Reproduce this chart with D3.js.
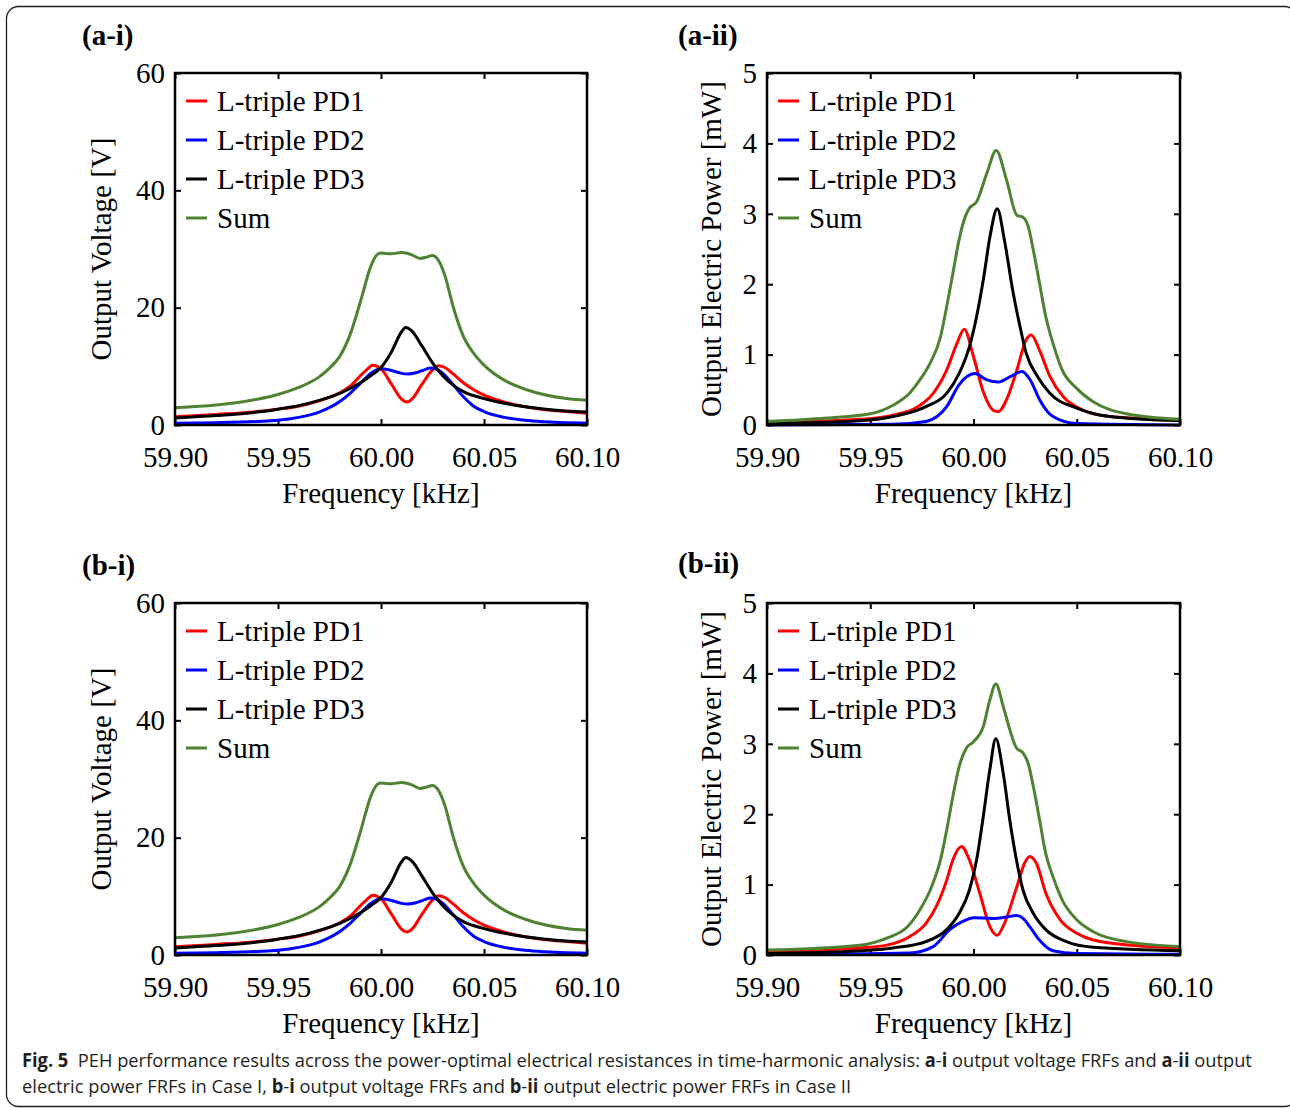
<!DOCTYPE html>
<html>
<head>
<meta charset="utf-8">
<title>PEH FRFs</title>
<script src="https://d3js.org/d3.v7.min.js"></script>
<style>
  body { margin: 0; background: #fff; }
</style>
</head>
<body>
<svg id="fig" width="1290" height="1108"></svg>
<script>
// ---- data ----
var freqTicks = [59.90, 59.95, 60.00, 60.05, 60.10];
var voltTicks = [0, 20, 40, 60];
var powerTicks = [0, 1, 2, 3, 4, 5];
var seriesNames = ["L-triple PD1", "L-triple PD2", "L-triple PD3", "Sum"];
var seriesColors = ["#ff0000", "#0000ff", "#000000", "#4f8233"];

// (a-i) output voltage, Case I  [kHz, V]
var aiPD1 = [[59.90,1.4],[59.92,1.8],[59.94,2.3],[59.95,2.7],[59.96,3.2],[59.97,4.1],[59.98,5.5],[59.985,6.6],[59.99,8.4],[59.993,9.4],[59.996,10.2],[60.00,9.6],[60.005,7.0],[60.01,4.4],[60.0125,3.9],[60.015,4.4],[60.02,7.0],[60.025,9.4],[60.028,10.1],[60.031,9.8],[60.035,8.7],[60.04,7.2],[60.045,6.0],[60.05,5.1],[60.06,3.9],[60.07,3.1],[60.08,2.6],[60.09,2.3],[60.10,2.0]];
var aiPD2 = [[59.90,0.3],[59.92,0.4],[59.94,0.6],[59.95,0.8],[59.96,1.3],[59.97,2.2],[59.98,4.0],[59.985,5.4],[59.99,7.1],[59.995,8.8],[60.00,9.6],[60.005,9.3],[60.01,8.8],[60.013,8.7],[60.017,8.9],[60.021,9.4],[60.024,9.7],[60.027,9.5],[60.03,8.8],[60.035,6.9],[60.04,4.8],[60.045,3.2],[60.05,2.3],[60.06,1.3],[60.07,0.8],[60.08,0.55],[60.09,0.4],[60.10,0.3]];
var aiPD3 = [[59.90,1.2],[59.92,1.6],[59.94,2.2],[59.95,2.7],[59.96,3.3],[59.97,4.2],[59.98,5.4],[59.99,7.2],[59.995,8.4],[60.00,9.8],[60.005,12.4],[60.01,15.9],[60.012,16.6],[60.015,16.0],[60.02,13.4],[60.025,10.6],[60.03,8.4],[60.035,6.8],[60.04,5.7],[60.05,4.5],[60.06,3.7],[60.07,3.1],[60.08,2.7],[60.09,2.4],[60.10,2.2]];
var aiSum = [[59.90,2.95],[59.92,3.4],[59.94,4.4],[59.95,5.2],[59.96,6.4],[59.97,8.2],[59.975,9.7],[59.98,11.7],[59.985,15.4],[59.99,21.0],[59.995,27.0],[59.998,29.0],[60.00,29.3],[60.005,29.2],[60.01,29.4],[60.015,29.0],[60.019,28.4],[60.022,28.6],[60.025,28.9],[60.028,28.0],[60.031,25.5],[60.035,20.2],[60.04,15.1],[60.045,12.2],[60.05,10.2],[60.06,7.6],[60.07,6.1],[60.08,5.1],[60.09,4.5],[60.10,4.2]];

// (a-ii) output electric power, Case I  [kHz, mW]
var aiiPD1 = [[59.90,0.03],[59.945,0.08],[59.961,0.14],[59.973,0.26],[59.9805,0.45],[59.987,0.78],[59.992,1.16],[59.9955,1.36],[60.00,0.97],[60.005,0.45],[60.0095,0.21],[60.012,0.19],[60.016,0.36],[60.021,0.78],[60.0255,1.21],[60.028,1.28],[60.032,1.06],[60.037,0.69],[60.0435,0.40],[60.053,0.21],[60.066,0.12],[60.10,0.07]];
var aiiPD2 = [[59.90,0.0],[59.961,0.01],[59.977,0.05],[59.987,0.26],[59.993,0.57],[60.0006,0.73],[60.0065,0.64],[60.012,0.61],[60.018,0.69],[60.0235,0.76],[60.0275,0.64],[60.032,0.36],[60.0385,0.12],[60.05,0.02],[60.10,0.0]];
var aiiPD3 = [[59.90,0.02],[59.945,0.06],[59.961,0.12],[59.977,0.26],[59.987,0.45],[59.993,0.73],[59.998,1.11],[60.0015,1.54],[60.005,2.11],[60.008,2.68],[60.0115,3.07],[60.015,2.62],[60.019,1.91],[60.0225,1.40],[60.0255,1.02],[60.031,0.69],[60.037,0.45],[60.05,0.24],[60.066,0.12],[60.10,0.06]];
var aiiSum = [[59.90,0.05],[59.929,0.10],[59.95,0.16],[59.961,0.28],[59.969,0.45],[59.974,0.64],[59.979,0.88],[59.984,1.25],[59.987,1.68],[59.99,2.15],[59.993,2.63],[59.996,2.96],[59.998,3.08],[60.0015,3.17],[60.0065,3.58],[60.011,3.90],[60.016,3.48],[60.021,2.98],[60.024,2.95],[60.0265,2.82],[60.029,2.48],[60.032,2.01],[60.035,1.54],[60.0385,1.16],[60.043,0.78],[60.05,0.52],[60.058,0.33],[60.074,0.16],[60.10,0.08]];

// (b-i) output voltage, Case II -- same curves as (a-i) at this resolution
var biPD1 = aiPD1.slice();
var biPD2 = aiPD2.slice();
var biPD3 = aiPD3.slice();
var biSum = aiSum.slice();

// (b-ii) output electric power, Case II
var biiPD1 = [[59.90,0.05],[59.945,0.10],[59.958,0.14],[59.969,0.26],[59.977,0.45],[59.982,0.69],[59.987,1.06],[59.99,1.35],[59.9942,1.54],[59.998,1.35],[60.003,0.88],[60.008,0.40],[60.0115,0.28],[60.015,0.45],[60.021,0.97],[60.025,1.32],[60.0273,1.40],[60.0305,1.30],[60.035,0.88],[60.042,0.50],[60.05,0.31],[60.066,0.17],[60.10,0.10]];
var biiPD2 = [[59.90,0.01],[59.969,0.03],[59.9805,0.12],[59.9885,0.36],[59.995,0.48],[60.00,0.53],[60.0095,0.52],[60.016,0.54],[60.0208,0.56],[60.024,0.52],[60.0273,0.40],[60.032,0.21],[60.0385,0.06],[60.05,0.02],[60.10,0.01]];
var biiPD3 = [[59.90,0.02],[59.945,0.06],[59.961,0.10],[59.977,0.19],[59.987,0.36],[59.993,0.59],[59.998,0.92],[60.0015,1.35],[60.0047,1.96],[60.0079,2.63],[60.0108,3.07],[60.0144,2.58],[60.0176,1.91],[60.0208,1.35],[60.024,0.92],[60.029,0.59],[60.035,0.36],[60.045,0.19],[60.058,0.11],[60.10,0.06]];
var biiSum = [[59.90,0.07],[59.945,0.14],[59.958,0.24],[59.968,0.40],[59.974,0.64],[59.979,0.92],[59.984,1.35],[59.987,1.77],[59.99,2.25],[59.993,2.67],[59.9966,2.94],[60.00,3.03],[60.0047,3.24],[60.0079,3.62],[60.0108,3.85],[60.0144,3.53],[60.0176,3.2],[60.0208,2.94],[60.024,2.87],[60.0265,2.72],[60.029,2.39],[60.032,1.92],[60.035,1.44],[60.0385,1.11],[60.043,0.78],[60.05,0.50],[60.058,0.33],[60.074,0.19],[60.10,0.12]];

// ---- layout ----
var serif = "'Liberation Serif', 'Times New Roman', serif";
var panels = [
  {tag: "(a-i)",  tagX: 82,  tagY: 45,  left: 175, top: 73,  w: 412, h: 352, yMax: 60, ticks: voltTicks,  ylab: "Output Voltage [V]",         ylabX: 111, series: [aiPD1, aiPD2, aiPD3, aiSum]},
  {tag: "(a-ii)", tagX: 678, tagY: 45,  left: 767, top: 73,  w: 413, h: 352, yMax: 5,  ticks: powerTicks, ylab: "Output Electric Power [mW]", ylabX: 721, series: [aiiPD1, aiiPD2, aiiPD3, aiiSum]},
  {tag: "(b-i)",  tagX: 82,  tagY: 575, left: 175, top: 603, w: 412, h: 352, yMax: 60, ticks: voltTicks,  ylab: "Output Voltage [V]",         ylabX: 111, series: [biPD1, biPD2, biPD3, biSum]},
  {tag: "(b-ii)", tagX: 678, tagY: 573, left: 767, top: 603, w: 413, h: 352, yMax: 5,  ticks: powerTicks, ylab: "Output Electric Power [mW]", ylabX: 721, series: [biiPD1, biiPD2, biiPD3, biiSum]}
];

var svg = d3.select("#fig");

// outer frame
svg.append("rect")
  .attr("x", 6.5).attr("y", 6.5)
  .attr("width", 1290).attr("height", 1100)
  .attr("rx", 12)
  .attr("fill", "none")
  .attr("stroke", "#222")
  .attr("stroke-width", 1.3);

function styleAxis(g) {
  g.select(".domain").remove();
  g.selectAll(".tick line").attr("stroke", "#000").attr("stroke-width", 2);
  g.selectAll("text")
    .attr("font-family", serif)
    .attr("font-size", 29)
    .attr("fill", "#000");
}

panels.forEach(function(p) {
  var x = d3.scaleLinear().domain([59.90, 60.10]).range([0, p.w]);
  var y = d3.scaleLinear().domain([0, p.yMax]).range([p.h, 0]);

  var g = svg.append("g").attr("transform", "translate(" + p.left + "," + p.top + ")");

  // ticks on all four sides, pointing in
  g.append("g")
    .attr("transform", "translate(0," + p.h + ")")
    .call(d3.axisBottom(x).tickValues(freqTicks).tickSize(-6).tickFormat(d3.format(".2f")))
    .call(styleAxis)
    .selectAll("text").attr("y", 42).attr("dy", null);
  g.append("g")
    .call(d3.axisTop(x).tickValues(freqTicks).tickSize(-6).tickFormat(""))
    .call(styleAxis);
  g.append("g")
    .call(d3.axisLeft(y).tickValues(p.ticks).tickSize(-6).tickPadding(10).tickFormat(d3.format("d")))
    .call(styleAxis);
  g.append("g")
    .attr("transform", "translate(" + p.w + ",0)")
    .call(d3.axisRight(y).tickValues(p.ticks).tickSize(-6).tickFormat(""))
    .call(styleAxis);

  // curves
  var line = d3.line()
    .x(function(d) { return x(d[0]); })
    .y(function(d) { return y(d[1]); })
    .curve(d3.curveMonotoneX);

  p.series.forEach(function(s, i) {
    g.append("path")
      .attr("d", line(s))
      .attr("fill", "none")
      .attr("stroke", seriesColors[i])
      .attr("stroke-width", 3)
      .attr("stroke-linejoin", "round");
  });

  // box
  g.append("rect")
    .attr("width", p.w).attr("height", p.h)
    .attr("fill", "none")
    .attr("stroke", "#000")
    .attr("stroke-width", 2.5);

  // legend
  var leg = g.append("g").attr("transform", "translate(0,28)");
  seriesNames.forEach(function(name, i) {
    var row = leg.append("g").attr("transform", "translate(0," + (i * 39) + ")");
    row.append("line")
      .attr("x1", 11).attr("x2", 32)
      .attr("stroke", seriesColors[i])
      .attr("stroke-width", 3);
    row.append("text")
      .attr("x", 42).attr("dy", "0.35em")
      .attr("font-family", serif)
      .attr("font-size", 29)
      .text(name);
  });

  // axis titles
  svg.append("text")
    .attr("x", p.left + p.w / 2)
    .attr("y", p.top + p.h + 78)
    .attr("text-anchor", "middle")
    .attr("font-family", serif)
    .attr("font-size", 29)
    .text("Frequency [kHz]");
  svg.append("text")
    .attr("transform", "translate(" + p.ylabX + "," + (p.top + p.h / 2) + ") rotate(-90)")
    .attr("text-anchor", "middle")
    .attr("font-family", serif)
    .attr("font-size", 29)
    .text(p.ylab);

  // panel tag
  svg.append("text")
    .attr("x", p.tagX).attr("y", p.tagY)
    .attr("font-family", serif)
    .attr("font-size", 29)
    .attr("font-weight", "bold")
    .text(p.tag);
});

// caption: natural text, then squeezed horizontally to the reference width
var capFont = "'Open Sans', 'Noto Sans', sans-serif";
var capLines = [
  {y: 1067, width: 1231, parts: [["Fig. 5", true], ["  PEH performance results across the power-optimal electrical resistances in time-harmonic analysis: ", false], ["a", true], ["-", false], ["i", true], [" output voltage FRFs and ", false], ["a", true], ["-", false], ["ii", true], [" output", false]]},
  {y: 1093, width: 830, parts: [["electric power FRFs in Case I, ", false], ["b", true], ["-", false], ["i", true], [" output voltage FRFs and ", false], ["b", true], ["-", false], ["ii", true], [" output electric power FRFs in Case II", false]]}
];
capLines.forEach(function(c) {
  var t = svg.append("text")
    .attr("x", 0).attr("y", 0)
    .attr("font-family", capFont).attr("font-size", 19).attr("fill", "#231f20")
    .style("white-space", "pre");
  c.parts.forEach(function(part) {
    t.append("tspan").attr("font-weight", part[1] ? "bold" : null).text(part[0]);
  });
  var natural = t.node().getComputedTextLength();
  var k = c.width / natural;
  t.attr("transform", "translate(22," + c.y + ") scale(" + k + ",1)");
});
</script>
</body>
</html>
